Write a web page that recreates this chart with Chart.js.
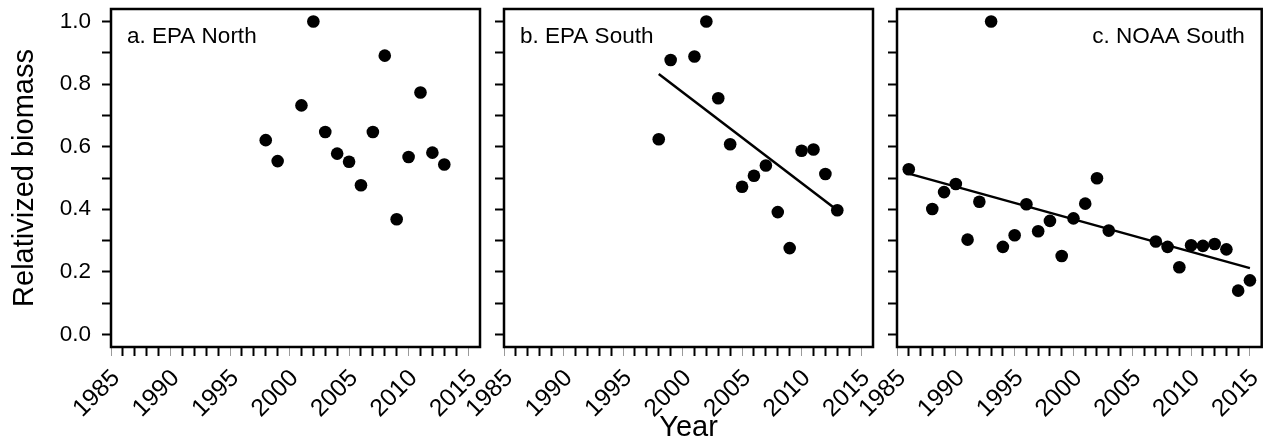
<!DOCTYPE html>
<html>
<head>
<meta charset="utf-8">
<script src="https://cdn.jsdelivr.net/npm/chart.js@4.4.1/dist/chart.umd.min.js"></script>
<style>
    html, body { margin: 0; padding: 0; background: #fff; }
    #wrap { position: relative; width: 1268px; height: 442px; overflow: hidden; }
    #wrap canvas { position: absolute; top: 0; }
</style>
</head>
<body>
<div id="wrap">
    <canvas id="panelA" width="490" height="442" style="left:0px"></canvas>
    <canvas id="panelB" width="429" height="442" style="left:454px"></canvas>
    <canvas id="panelC" width="421" height="442" style="left:847px"></canvas>
</div>
<script>
// ---- data ----
var aYears = [1998, 1999, 2001, 2002, 2003, 2004, 2005, 2006, 2007, 2008, 2009, 2010, 2011, 2012, 2013];
var aValues = [0.621, 0.554, 0.732, 1.0, 0.647, 0.578, 0.552, 0.477, 0.647, 0.891, 0.368, 0.567, 0.773, 0.581, 0.543];

var bYears = [1998, 1999, 2001, 2002, 2003, 2004, 2005, 2006, 2007, 2008, 2009, 2010, 2011, 2012, 2013];
var bValues = [0.624, 0.877, 0.888, 1.0, 0.755, 0.608, 0.472, 0.507, 0.540, 0.391, 0.276, 0.587, 0.591, 0.513, 0.397];
var bTrendYears = [1998, 2013];
var bTrendValues = [0.832, 0.397];

var cYears = [1986, 1988, 1989, 1990, 1991, 1992, 1993, 1994, 1995, 1996, 1997, 1998, 1999, 2000, 2001, 2002, 2003,
              2007, 2008, 2009, 2010, 2011, 2012, 2013, 2014, 2015];
var cValues = [0.528, 0.401, 0.455, 0.481, 0.303, 0.424, 1.0, 0.280, 0.317, 0.416, 0.330, 0.363, 0.251, 0.371, 0.418, 0.499, 0.332,
               0.297, 0.280, 0.215, 0.285, 0.283, 0.289, 0.272, 0.140, 0.173];
var cTrendYears = [1986, 2015];
var cTrendValues = [0.514, 0.212];

// tick values
var yearTicks = [1985, 1986, 1987, 1988, 1989, 1990, 1991, 1992, 1993, 1994, 1995, 1996, 1997, 1998, 1999, 2000,
                 2001, 2002, 2003, 2004, 2005, 2006, 2007, 2008, 2009, 2010, 2011, 2012, 2013, 2014, 2015];
var yearLabels = [1985, 1990, 1995, 2000, 2005, 2010, 2015];
var yTicks = [0, 0.1, 0.2, 0.3, 0.4, 0.5, 0.6, 0.7, 0.8, 0.9, 1.0];
var yLabels = ['0.0', '0.2', '0.4', '0.6', '0.8', '1.0'];

var FONT = '"Liberation Sans", Arial, sans-serif';
Chart.defaults.font.family = FONT;
Chart.defaults.color = '#000';

function toPoints(xs, ys) {
    return xs.map(function (x, i) { return { x: x, y: ys[i] }; });
}

// frame box + panel label drawn on top of the chart area
var framePlugin = {
    id: 'frame',
    afterDraw: function (chart, args, opts) {
        var a = chart.chartArea, ctx = chart.ctx;
        ctx.save();
        ctx.strokeStyle = '#000';
        ctx.lineWidth = 2.5;
        ctx.strokeRect(a.left, a.top, a.right - a.left, a.bottom - a.top);
        ctx.font = '22.5px ' + FONT;
        ctx.fillStyle = '#000';
        ctx.textBaseline = 'middle';
        if (opts.align === 'right') {
            ctx.textAlign = 'right';
            ctx.fillText(opts.text, a.right - 17, a.top + 28);
        } else {
            ctx.textAlign = 'left';
            ctx.fillText(opts.text, a.left + 16, a.top + 28);
        }
        ctx.restore();
    }
};

function makePanel(id, years, values, trendX, trendY, label, align, showYLabels, showXTitle, yWidth, padRight) {
    var datasets = [{
        type: 'scatter',
        data: toPoints(years, values),
        backgroundColor: '#000',
        borderWidth: 0,
        pointRadius: 6.3
    }];
    if (trendX) {
        datasets.push({
            type: 'line',
            data: toPoints(trendX, trendY),
            borderColor: '#000',
            borderWidth: 2.5,
            pointRadius: 0,
            fill: false
        });
    }
    return new Chart(document.getElementById(id), {
        type: 'scatter',
        data: { datasets: datasets },
        plugins: [framePlugin],
        options: {
            responsive: false,
            animation: false,
            layout: { padding: { left: 0, right: padRight, top: 9, bottom: 0 } },
            plugins: {
                legend: { display: false },
                tooltip: { enabled: false },
                frame: { text: label, align: align }
            },
            scales: {
                x: {
                    type: 'linear',
                    min: 1985,
                    max: 2016,
                    afterBuildTicks: function (scale) {
                        scale.ticks = yearTicks.map(function (v) { return { value: v }; });
                    },
                    afterFit: function (scale) {
                        scale.height = 95;
                        scale.paddingLeft = 0;
                        scale.paddingRight = 0;
                    },
                    border: { display: false },
                    grid: {
                        drawOnChartArea: false,
                        tickLength: 9,
                        tickColor: function (ctx) {
                            return yearLabels.indexOf(ctx.tick.value) >= 0 ? '#9a9a9a' : '#000';
                        },
                        tickWidth: function (ctx) {
                            return yearLabels.indexOf(ctx.tick.value) >= 0 ? 1 : 2;
                        }
                    },
                    ticks: {
                        autoSkip: false,
                        minRotation: 45,
                        maxRotation: 45,
                        padding: 8,
                        labelOffset: 5,
                        font: { size: 24.5 },
                        callback: function (v) {
                            return yearLabels.indexOf(v) >= 0 ? String(v) : '';
                        }
                    },
                    title: {
                        display: showXTitle,
                        text: 'Year',
                        font: { size: 29, lineHeight: 1 },
                        padding: { top: 0, bottom: 0 }
                    }
                },
                y: {
                    type: 'linear',
                    min: -0.04,
                    max: 1.04,
                    afterBuildTicks: function (scale) {
                        scale.ticks = yTicks.map(function (v) { return { value: v }; });
                    },
                    afterFit: function (scale) {
                        scale.width = yWidth;
                        scale.paddingTop = 0;
                        scale.paddingBottom = 0;
                    },
                    border: { display: false },
                    grid: {
                        drawOnChartArea: false,
                        tickLength: 9,
                        tickColor: '#000',
                        tickWidth: 2
                    },
                    ticks: {
                        padding: 11,
                        font: { size: 22.5 },
                        callback: function (v) {
                            var s = v.toFixed(1);
                            return showYLabels && yLabels.indexOf(s) >= 0 ? s : '';
                        }
                    },
                    title: {
                        display: showYLabels,
                        text: 'Relativized biomass',
                        font: { size: 29, lineHeight: 1 },
                        padding: { top: 10, bottom: 0 }
                    }
                }
            }
        }
    });
}

makePanel('panelA', aYears, aValues, null, null, 'a. EPA North', 'left', true, false, 111, 10);
makePanel('panelB', bYears, bValues, bTrendYears, bTrendValues, 'b. EPA South', 'left', false, true, 50, 10);
makePanel('panelC', cYears, cValues, cTrendYears, cTrendValues, 'c. NOAA South', 'right', false, false, 50, 2);
</script>
</body>
</html>
